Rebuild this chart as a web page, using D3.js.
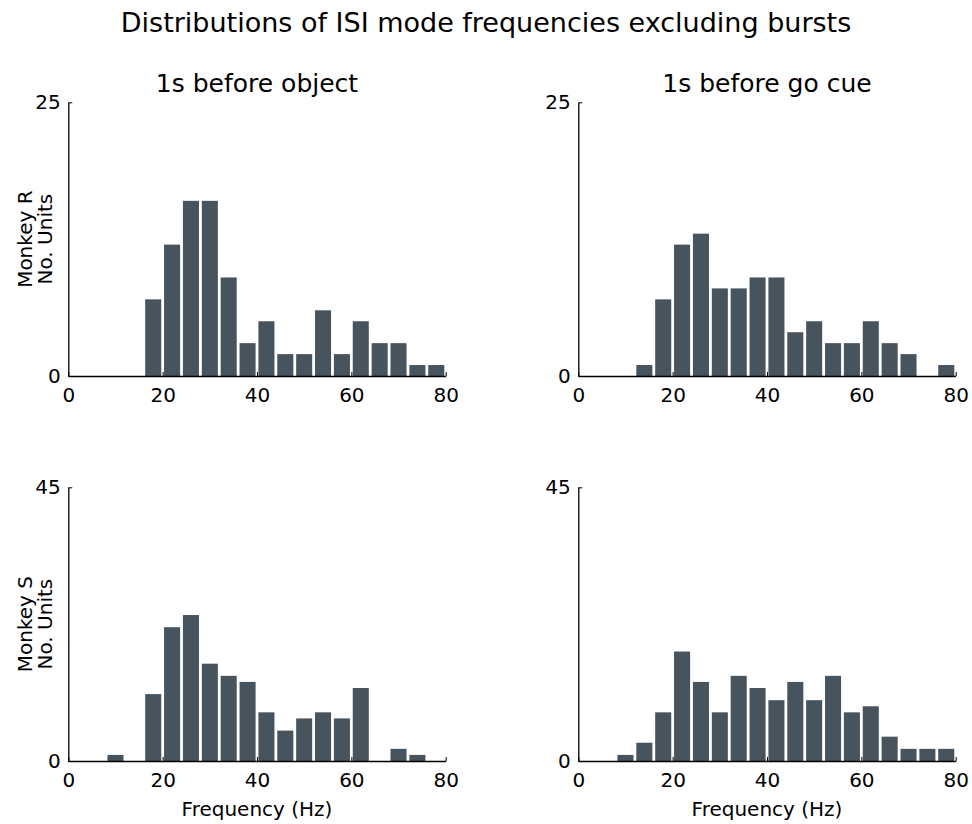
<!DOCTYPE html>
<html><head><meta charset="utf-8">
<script src="https://cdn.jsdelivr.net/npm/d3@7"></script>
<style>body{margin:0;background:#fff;} text{font-family:"DejaVu Sans",sans-serif;fill:#000;}</style>
</head><body>
<svg id="c" width="972" height="824"></svg>
<script>
// bin left edges (Hz), 4 Hz bins from 0 to 80
const binStarts = d3.range(0, 80, 4);
const binWidth = 4;
// counts per bin
const monkeyR_object = [0,0,0,0,7,12,16,16,9,3,5,2,2,6,2,5,3,3,1,1];
const monkeyR_gocue  = [0,0,0,1,7,12,13,8,8,9,9,4,5,3,3,5,3,2,0,1];
const monkeyS_object = [0,0,1,0,11,22,24,16,14,13,8,5,7,8,7,12,0,2,1,0];
const monkeyS_gocue  = [0,0,1,3,8,18,13,8,14,12,10,13,10,14,8,9,4,2,2,2];
const xTicks = [0,20,40,60,80];
const rowMax = [25, 45];
const colTitles = ["1s before object", "1s before go cue"];
const rowLabels = [["Monkey R","No. Units"],["Monkey S","No. Units"]];
const mainTitle = "Distributions of ISI mode frequencies excluding bursts";
const xLabel = "Frequency (Hz)";

const panels = [
  {row:0,col:0,data:monkeyR_object},
  {row:0,col:1,data:monkeyR_gocue},
  {row:1,col:0,data:monkeyS_object},
  {row:1,col:1,data:monkeyS_gocue}
];

const svg = d3.select("#c");
const colX = [[68.3,445.7],[578.3,955.7]];
const rowY = [[376,102.3],[761,487.3]];
const barColor = "#47535d";
const rwidth = 0.85;

svg.append("text").attr("x",486).attr("y",32).attr("text-anchor","middle")
  .style("font-size","27px").text(mainTitle);

panels.forEach(p=>{
  const x = d3.scaleLinear().domain([0,80]).range(colX[p.col]);
  const y = d3.scaleLinear().domain([0,rowMax[p.row]]).range(rowY[p.row]);
  const g = svg.append("g");
  const bars = binStarts.map((s,i)=>({s, v:p.data[i]})).filter(d=>d.v>0);
  g.selectAll("rect").data(bars).enter().append("rect")
    .attr("x", d=>x(d.s + binWidth*(1-rwidth)/2))
    .attr("width", d=>x(d.s + binWidth*(1+rwidth)/2) - x(d.s + binWidth*(1-rwidth)/2))
    .attr("y", d=>y(d.v))
    .attr("height", d=>y(0)-y(d.v))
    .attr("fill", barColor);
  // x axis
  const xa = g.append("g").attr("transform",`translate(0,${y(0)})`)
    .call(d3.axisBottom(x).tickValues(xTicks).tickFormat(d3.format("d")).tickSizeInner(-4).tickSizeOuter(0).tickPadding(12));
  xa.select(".domain").attr("stroke","#000").attr("stroke-width",1.3);
  xa.selectAll(".tick line").attr("stroke","#000").attr("stroke-width",1);
  xa.selectAll(".tick text").style("font-size","20px").attr("font-family","DejaVu Sans");
  // y axis
  const ya = g.append("g").attr("transform",`translate(${x(0)},0)`)
    .call(d3.axisLeft(y).tickValues([0,rowMax[p.row]]).tickFormat(d3.format("d")).tickSizeInner(-4).tickSizeOuter(0).tickPadding(7.5));
  ya.select(".domain").attr("stroke","#000").attr("stroke-width",1.3);
  ya.selectAll(".tick line").attr("stroke","#000").attr("stroke-width",1);
  ya.selectAll(".tick text").style("font-size","20px").attr("font-family","DejaVu Sans");
  if (p.row===0) {
    svg.append("text").attr("x",(colX[p.col][0]+colX[p.col][1])/2).attr("y",92)
      .attr("text-anchor","middle").style("font-size","25px").text(colTitles[p.col]);
  }
  if (p.row===1) {
    svg.append("text").attr("x",(colX[p.col][0]+colX[p.col][1])/2).attr("y",816)
      .attr("text-anchor","middle").style("font-size","20px").text(xLabel);
  }
  if (p.col===0) {
    const cy = (rowY[p.row][0]+rowY[p.row][1])/2;
    rowLabels[p.row].forEach((t,i)=>{
      svg.append("text").attr("transform",`translate(${32+i*20},${cy}) rotate(-90)`)
        .attr("text-anchor","middle").style("font-size","20px").text(t);
    });
  }
});
</script>
</body></html>
